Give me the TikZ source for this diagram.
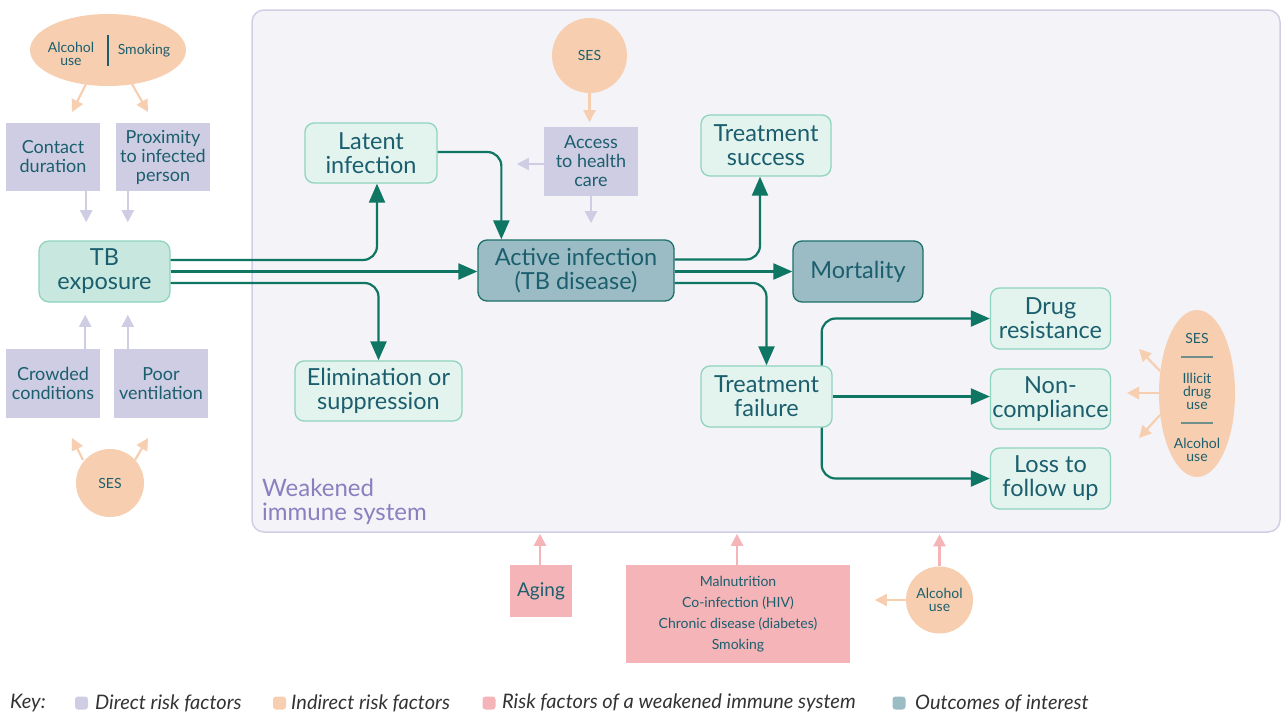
\documentclass[tikz,border=0pt]{standalone}
\usepackage{fontspec}
\setmainfont{Lato}
\usetikzlibrary{arrows.meta,calc,shapes.geometric}
\definecolor{txt}{HTML}{1B5E6E}
\definecolor{panel}{HTML}{F3F3F8}
\definecolor{panelb}{HTML}{D0CFE6}
\definecolor{lav}{HTML}{CFCDE3}
\definecolor{peach}{HTML}{F7CFB0}
\definecolor{pinkf}{HTML}{F4B4B8}
\definecolor{gfill}{HTML}{E3F4EE}
\definecolor{tbfill}{HTML}{C8E8DF}
\definecolor{gbord}{HTML}{8FD4BC}
\definecolor{dfill}{HTML}{9BBCC4}
\definecolor{dbord}{HTML}{1D7068}
\definecolor{tealarr}{HTML}{0F7663}
\definecolor{purp}{HTML}{8B7FBF}
\definecolor{sepl}{HTML}{6E8F8C}
\definecolor{keytxt}{HTML}{333333}
\newcommand\fzbig{\fontsize{23.5}{24}\selectfont}
\newcommand\fzweak{\fontsize{24}{24}\selectfont}
\newcommand\fzmid{\fontsize{18}{19}\selectfont}
\newcommand\fzage{\fontsize{19}{20}\selectfont}
\newcommand\fzsmall{\fontsize{14}{13}\selectfont}
\newcommand\fzlist{\fontsize{14}{21}\selectfont}
\newcommand\fzkey{\fontsize{20}{20}\selectfont\itshape}
\begin{document}
\begin{tikzpicture}[x=1pt,y=-1pt,
  box/.style={rectangle, rounded corners=9pt, align=center, text=txt, inner sep=0pt, line width=1.3pt},
  outc/.style={box, fill=gfill, draw=gbord, font=\fzbig},
  darkc/.style={box, fill=dfill, draw=dbord, font=\fzbig},
  direct/.style={rectangle, fill=lav, align=center, text=txt, font=\fzmid, inner sep=0pt},
  immf/.style={rectangle, fill=pinkf, align=center, text=txt, inner sep=0pt},
  indc/.style={circle, fill=peach, text=txt, font=\fzsmall, align=center, inner sep=0pt},
  lbl/.style={text=txt, font=\fzsmall, align=center, inner sep=0pt},
  mainarrow/.style={draw=tealarr, line width=2.2pt, rounded corners=14pt, -{Triangle[length=19pt,width=16pt]}},
  lavarrow/.style={draw=lav, line width=2.2pt, -{Triangle[length=12pt,width=12pt]}},
  peacharrow/.style={draw=peach, line width=2.2pt, -{Triangle[length=12pt,width=12pt]}},
  pinkarrow/.style={draw=pinkf, line width=2.2pt, -{Triangle[length=12pt,width=12pt]}},
  keysq/.style={rectangle, rounded corners=3pt, minimum size=13pt, inner sep=0pt},
  keyt/.style={anchor=west, text=keytxt, font=\fzkey, inner sep=0pt}
]
\useasboundingbox (0,0) rectangle (1281,712);
\fill[white] (0,0) rectangle (1281,712);

% panel
\filldraw[fill=panel, draw=panelb, line width=1.5pt, rounded corners=12pt] (252,10) rectangle (1280,532);
\node[anchor=west, text=purp, font=\fzweak, align=left, inner sep=0pt] (weak) at (262,502) {Weakened\\immune system};

% left column
\node[indc, ellipse, minimum width=156pt, minimum height=72pt] (ell1) at (108,50) {};
\node[lbl] (alc1) at (71,53.5) {Alcohol\\use};
\node[lbl] (smk1) at (144,51) {Smoking};
\draw[txt, line width=1.2pt] ($(ell1.center)+(0,-15)$) -- ($(ell1.center)+(0,16)$);

\node[direct, minimum width=94pt, minimum height=68pt] (contact) at (53,157) {Contact\\duration};
\node[direct, minimum width=94pt, minimum height=68pt] (prox) at (163,157) {Proximity\\to infected\\person};
\node[box, fill=tbfill, draw=gbord, font=\fzbig, minimum width=131pt, minimum height=61pt, rounded corners=10pt] (tb) at (104.5,271.5) {TB\\exposure};
\node[direct, minimum width=94pt, minimum height=69pt] (crowd) at (53,383.5) {Crowded\\conditions};
\node[direct, minimum width=94pt, minimum height=69pt] (poor) at (161,383.5) {Poor\\ventilation};
\node[indc, minimum size=68pt] (ses2) at (110,483) {SES};

\draw[peacharrow] ($(ell1.center)+(-22,34)$) -- ++(-14,28);
\draw[peacharrow] ($(ell1.center)+(24,34)$) -- ++(16,28);
\draw[lavarrow] ($(contact.south east)+(-14,0)$) -- ++(0,31);
\draw[lavarrow] ($(prox.south west)+(12,0)$) -- ++(0,31);
\draw[lavarrow] ($(crowd.north east)+(-15,0)$) -- ++(0,-34);
\draw[lavarrow] ($(poor.north west)+(14,0)$) -- ++(0,-34);
\draw[peacharrow] ($(ses2.center)+(-27,-23)$) -- ++(-11,-22);
\draw[peacharrow] ($(ses2.center)+(25,-23)$) -- ++(13,-22);

% centre
\node[outc, minimum width=132pt, minimum height=60pt] (latent) at (371,153) {Latent\\infection};
\node[outc, minimum width=167pt, minimum height=60pt] (elim) at (378.5,391) {Elimination or\\suppression};
\node[darkc, minimum width=196pt, minimum height=61pt] (active) at (576,270.5) {Active infection\\(TB disease)};
\node[indc, minimum size=75pt] (ses1) at (589.5,55.5) {SES};
\node[direct, minimum width=94pt, minimum height=69pt] (access) at (591,161.5) {Access\\to health\\care};
\node[outc, minimum width=130pt, minimum height=61pt] (success) at (766,145.5) {Treatment\\success};
\node[darkc, minimum width=130pt, minimum height=61pt] (mort) at (858,271.5) {Mortality};
\node[outc, minimum width=131pt, minimum height=61pt] (failure) at (766.5,396.5) {Treatment\\failure};
\node[outc, minimum width=120pt, minimum height=61pt] (drug) at (1050.5,318.5) {Drug\\resistance};
\node[outc, minimum width=120pt, minimum height=60pt] (noncomp) at (1050.5,399) {Non-\\compliance};
\node[outc, minimum width=120pt, minimum height=61pt] (loss) at (1050.5,478.5) {Loss to\\follow up};

\draw[peacharrow] (ses1.south) -- ++(0,29);
\draw[lavarrow] ($(access.west)+(0,2.5)$) -- ++(-27,0);
\draw[lavarrow] (access.south) -- ++(0,27);

\draw[mainarrow] ($(tb.east)+(0,-11.5)$) -| ($(latent.south)+(6,0)$);
\draw[mainarrow] (tb.east) -- (tb.east -| active.west);
\draw[mainarrow] ($(tb.east)+(0,11.5)$) -| (elim.north);
\draw[mainarrow] ($(latent.east)+(0,-1)$) -| ($(active.north west)+(24,0)$);
\draw[mainarrow] ($(active.east)+(0,-11)$) -| ($(success.south)+(-6,0)$);
\draw[mainarrow] ($(active.east)+(0,1)$) -- ($(active.east -| mort.west)+(0,1)$);
\draw[mainarrow] ($(active.east)+(0,12.5)$) -| (failure.north);
\draw[mainarrow] ($(failure.north east)+(-11,0)$) |- (drug.west);
\draw[mainarrow] (failure.east) -- (failure.east -| noncomp.west);
\draw[mainarrow] ($(failure.south east)+(-11,0)$) |- (loss.west);

% right ellipse
\node[indc, ellipse, minimum width=76pt, minimum height=167pt] (ell2) at (1197,393.5) {};
\node[lbl] (ses3) at (1197,338) {SES};
\node[lbl] (illicit) at (1197,391) {Illicit\\drug\\use};
\node[lbl] (alc3) at (1197,449.5) {Alcohol\\use};
\draw[sepl, line width=1.3pt] ($(ell2.center)+(-16,-36.5)$) -- ($(ell2.center)+(16,-36.5)$);
\draw[sepl, line width=1.3pt] ($(ell2.center)+(-16,29.5)$) -- ($(ell2.center)+(16,29.5)$);
\draw[peacharrow] ($(ell2.center)+(-37,-22.5)$) -- ++(-21,-22);
\draw[peacharrow] ($(ell2.center)+(-37,-0.5)$) -- ++(-33,0);
\draw[peacharrow] ($(ell2.center)+(-37,21.5)$) -- ++(-21,23);

% bottom
\node[immf, font=\fzage, minimum width=62pt, minimum height=52pt] (aging) at (541,591) {Aging};
\node[immf, font=\fzlist, minimum width=224pt, minimum height=98pt] (mal) at (738,614) {Malnutrition\\Co-infection (HIV)\\Chronic disease (diabetes)\\Smoking};
\node[indc, minimum size=67pt] (alc2) at (939.5,600) {Alcohol\\use};
\draw[pinkarrow] ($(aging.north)+(-1,0)$) -- ++(0,-31);
\draw[pinkarrow] ($(mal.north)+(-1,0)$) -- ++(0,-31);
\draw[pinkarrow] (alc2.north) -- ++(0,-32);
\draw[peacharrow] (alc2.west) -- ++(-31,0);

% key
\node[keyt] (keylab) at (10,703) {Key:};
\node[keysq, fill=lav] (k1) at (81.5,703) {};
\node[keyt] (k1t) at (95,703) {Direct risk factors};
\node[keysq, fill=peach] (k2) at (279.5,703) {};
\node[keyt] (k2t) at (291,703) {Indirect risk factors};
\node[keysq, fill=pinkf] (k3) at (489,703) {};
\node[keyt] (k3t) at (502,703) {Risk factors of a weakened immune system};
\node[keysq, fill=dfill] (k4) at (899,703) {};
\node[keyt] (k4t) at (915,703) {Outcomes of interest};
\end{tikzpicture}
\end{document}
